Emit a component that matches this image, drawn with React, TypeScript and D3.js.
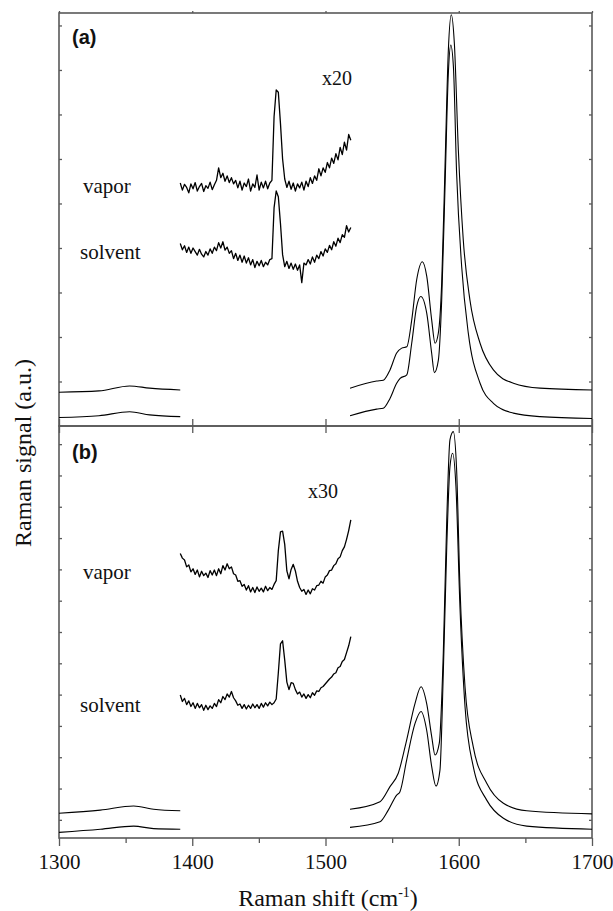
import React, { useEffect, useRef } from 'react';
import * as d3 from 'd3';

const W = 613;
const H = 911;

// x axis (Raman shift, cm-1)
const X_DOMAIN = [1300, 1700];
const X_MAJOR = [1300, 1400, 1500, 1600, 1700];
const X_MINOR = [1350, 1450, 1550, 1650];

// y ticks of each panel (a.u.)
const A_Y_TICKS = [1, 2, 3, 4, 5, 6, 7, 8, 9];
const B_Y_TICKS = [0, 1, 2, 3, 4, 5, 6, 7, 8, 9, 10, 11, 12];

// ---- panel (a) ----
const aLowUpper = [[1300, 0.76], [1330, 0.79], [1353, 0.9], [1368, 0.85], [1391, 0.81]];
const aLowLower = [[1300, 0.19], [1330, 0.23], [1353, 0.32], [1368, 0.25], [1391, 0.21]];

const aHighUpper = [
  [1518.4, 0.85], [1538.4, 1.01], [1543.4, 1.03], [1548.4, 1.26], [1553.4, 1.64], [1557.2, 1.75],
  [1561, 1.78], [1564.7, 2.38], [1568.4, 3.28], [1572.7, 3.69], [1576, 3.36], [1579.7, 2.38],
  [1582.2, 1.86], [1584.7, 2.09], [1587.2, 3.21], [1589.7, 5.83], [1592.2, 8.45], [1594.4, 9.24],
  [1596.7, 8.6], [1599.7, 6.2], [1603.4, 4.18], [1608.4, 2.83], [1616, 1.86], [1626, 1.26],
  [1641, 0.96], [1661, 0.85], [1700, 0.81],
];
const aHighLower = [
  [1518.4, 0.23], [1538.4, 0.38], [1543.4, 0.4], [1548.4, 0.62], [1553.4, 0.96], [1556, 1.07],
  [1561, 1.15], [1564.7, 1.86], [1568.4, 2.68], [1571.5, 2.91], [1576, 2.53], [1579.7, 1.63],
  [1581.7, 1.2], [1584.7, 1.48], [1587.2, 2.83], [1589.7, 5.38], [1592.2, 7.93], [1594, 8.56],
  [1596, 8.07], [1598.4, 5.68], [1602.2, 3.58], [1607.2, 2.08], [1616, 0.96], [1626, 0.51],
  [1641, 0.29], [1661, 0.21], [1700, 0.17],
];

// noisy x20 / x30 insets, sampled from 1391 cm-1 every 1.6 cm-1
const NOISY_START = 1391;
const NOISY_STEP = 1.6;

const aVapor = [
  5.46, 5.3, 5.43, 5.36, 5.24, 5.44, 5.33, 5.47, 5.28, 5.38, 5.45, 5.27, 5.4, 5.34, 5.48, 5.31, 5.42,
  5.52, 5.8, 5.58, 5.68, 5.5, 5.62, 5.47, 5.58,
  5.44, 5.52, 5.35, 5.5, 5.3, 5.46, 5.38, 5.55, 5.28, 5.44, 5.36, 5.64, 5.3, 5.48, 5.35, 5.5, 5.33,
  5.46, 5.52,
  6.95, 7.55, 7.5, 6.8, 6.0, 5.55,
  5.36, 5.5, 5.32, 5.46, 5.28, 5.44, 5.35, 5.48, 5.3,
  5.5, 5.38, 5.58, 5.45, 5.62, 5.52, 5.78, 5.62, 5.8, 5.7, 5.92, 5.8, 6.02, 5.9, 6.12, 5.98, 6.26,
  6.1, 6.38, 6.2, 6.55, 6.42,
];
const aSolvent = [
  4.1, 3.96, 4.05, 3.9, 4.02, 3.88, 4.0, 3.92, 3.84, 3.97, 3.86, 3.8, 3.92, 3.84, 3.98, 3.88, 4.02,
  3.94, 4.12, 4.0, 4.14, 3.95, 4.02, 3.88, 3.94,
  3.76, 3.88, 3.72, 3.84, 3.68, 3.82, 3.66, 3.78, 3.62, 3.74, 3.56, 3.7, 3.6, 3.72, 3.58, 3.68, 3.62,
  3.74, 3.76,
  4.9, 5.28, 5.15, 4.55, 3.85, 3.58,
  3.7, 3.54, 3.66, 3.52, 3.64, 3.5, 3.62, 3.22, 3.66,
  3.62, 3.74, 3.64, 3.8, 3.68, 3.84, 3.76, 3.92, 3.82, 3.98, 3.9, 4.06, 3.96, 4.14, 4.04, 4.22, 4.12,
  4.3, 4.24, 4.5, 4.36, 4.46,
];

// ---- panel (b) ----
const bLowUpper = [[1300, 0.21], [1331, 0.31], [1356, 0.44], [1371, 0.34], [1391, 0.29]];
const bLowLower = [[1300, -0.4], [1331, -0.3], [1356, -0.2], [1371, -0.28], [1391, -0.3]];

const bHighUpper = [
  [1518.4, 0.34], [1540.9, 0.58], [1548.4, 1.06], [1554.6, 1.49], [1560.9, 2.55], [1567.2, 3.72],
  [1571.7, 4.25], [1575.9, 3.72], [1579.7, 2.66], [1582.2, 2.07], [1585.4, 2.45], [1588.4, 5.32],
  [1591, 9.58], [1593.4, 12.14], [1595.9, 12.4], [1598.4, 11.18], [1600.9, 7.45], [1604.7, 4.25],
  [1610.9, 2.33], [1621, 1.17], [1633.5, 0.53], [1651, 0.29], [1700, 0.19],
];
const bHighLower = [
  [1518.4, -0.24], [1540.9, -0.06], [1547.1, 0.31], [1553.4, 0.79], [1555.9, 0.9], [1560.9, 1.91],
  [1567.2, 3.08], [1571.7, 3.46], [1575.9, 2.87], [1579.7, 1.7], [1582.9, 1.08], [1585.9, 1.59],
  [1588.4, 4.68], [1591, 8.73], [1593.4, 11.28], [1595.4, 11.71], [1597.9, 10.64], [1600.9, 6.81],
  [1604.7, 3.62], [1610.9, 1.7], [1621, 0.63], [1633.5, 0.05], [1651, -0.2], [1700, -0.3],
];

const bVapor = [
  8.51, 8.36, 8.3, 8.08, 8.14, 7.92, 8.02, 7.84, 7.98, 7.76, 7.94, 7.8, 7.88, 7.74, 7.96, 7.82, 7.98,
  7.8, 8.02, 7.86, 8.12, 7.98, 8.18, 8.02, 8.08,
  7.86, 7.82, 7.62, 7.64, 7.46, 7.52, 7.34, 7.48, 7.28, 7.42, 7.26, 7.44, 7.3, 7.4, 7.28, 7.46, 7.32,
  7.42, 7.36, 7.52, 7.64,
  8.6, 9.2, 9.22, 8.8, 7.95, 7.7, 8.0, 8.16, 7.95, 7.62, 7.42,
  7.3, 7.36, 7.2, 7.34, 7.22, 7.38, 7.34, 7.48, 7.5, 7.62, 7.56, 7.76, 7.82, 7.96, 7.98, 8.12, 8.18,
  8.34, 8.4, 8.6, 8.72, 8.96, 9.24, 9.58,
];
const bSolvent = [
  3.99, 3.78, 3.88, 3.68, 3.8, 3.62, 3.74, 3.56, 3.72, 3.58, 3.68, 3.5, 3.66, 3.52, 3.64, 3.56, 3.72,
  3.62, 3.84, 3.74, 3.94, 3.84, 4.02, 3.92, 4.1,
  3.9, 3.8, 3.66, 3.7, 3.56, 3.68, 3.54, 3.66, 3.56, 3.7, 3.58, 3.68, 3.56, 3.72, 3.6, 3.74, 3.64,
  3.76, 3.68, 3.74, 3.86,
  4.7, 5.62, 5.72, 5.1, 4.4, 4.16, 4.38, 4.36, 4.16, 4.02, 4.08,
  3.92, 4.02, 3.88, 4.0, 3.9, 4.06, 3.98, 4.12, 4.1, 4.22, 4.26, 4.34, 4.42, 4.5, 4.56, 4.66, 4.7,
  4.86, 4.9, 5.06, 5.12, 5.34, 5.56, 5.85,
];

const SERIF = '"Liberation Serif", "Times New Roman", serif';
const SANS = '"Liberation Sans", Arial, sans-serif';

const PANELS = [
  {
    top: 13, bottom: 426, domain: [0, 9.28], yTicks: A_Y_TICKS,
    topTick: 2, bottomTick: 7, showLabels: false,
    smooth: [aLowUpper, aLowLower, aHighUpper, aHighLower],
    noisy: [aVapor, aSolvent],
    texts: [
      { t: '(a)', x: 72, y: 44, size: 20, font: SANS, weight: 'bold' },
      { t: 'x20', x: 322, y: 85, size: 20, font: SERIF },
      { t: 'vapor', x: 83, y: 193, size: 21, font: SERIF },
      { t: 'solvent', x: 80, y: 259, size: 21, font: SERIF },
    ],
  },
  {
    top: 426, bottom: 838, domain: [-0.58, 12.58], yTicks: B_Y_TICKS,
    topTick: 7, bottomTick: 8, showLabels: true,
    smooth: [bLowUpper, bLowLower, bHighUpper, bHighLower],
    noisy: [bVapor, bSolvent],
    texts: [
      { t: '(b)', x: 72, y: 459, size: 20, font: SANS, weight: 'bold' },
      { t: 'x30', x: 308, y: 498, size: 20, font: SERIF },
      { t: 'vapor', x: 83, y: 579, size: 21, font: SERIF },
      { t: 'solvent', x: 80, y: 712, size: 21, font: SERIF },
    ],
  },
];

export default function App() {
  const ref = useRef<SVGSVGElement>(null);

  useEffect(() => {
    const svg = d3.select(ref.current);
    svg.selectAll('*').remove();

    const left = 59, right = 592;
    const axisColor = '#595959';
    const x = d3.scaleLinear().domain(X_DOMAIN).range([left, right]);

    const styleAxis = (g) => {
      g.select('.domain').remove();
      g.selectAll('.tick line').attr('stroke', axisColor).attr('stroke-width', 1.3);
    };

    PANELS.forEach((p) => {
      const y = d3.scaleLinear().domain(p.domain).range([p.bottom, p.top]);
      const smoothLine = d3.line().x((d) => x(d[0])).y((d) => y(d[1])).curve(d3.curveMonotoneX);
      const noisyLine = d3.line()
        .x((d, i) => x(NOISY_START + i * NOISY_STEP))
        .y((d) => y(d));

      // y ticks, inward on both sides
      svg.append('g').attr('transform', `translate(${left},0)`)
        .call(d3.axisLeft(y).tickValues(p.yTicks).tickSize(-3).tickFormat(() => ''))
        .call(styleAxis);
      svg.append('g').attr('transform', `translate(${right},0)`)
        .call(d3.axisRight(y).tickValues(p.yTicks).tickSize(-3).tickFormat(() => ''))
        .call(styleAxis);

      // x ticks, outward
      svg.append('g').attr('transform', `translate(0,${p.top})`)
        .call(d3.axisTop(x).tickValues(X_MAJOR).tickSize(p.topTick).tickFormat(() => ''))
        .call(styleAxis);
      const bottomAxis = svg.append('g').attr('transform', `translate(0,${p.bottom})`)
        .call(d3.axisBottom(x).tickValues(X_MAJOR).tickSize(p.bottomTick).tickPadding(8)
          .tickFormat(p.showLabels ? d3.format('d') : () => ''))
        .call(styleAxis);
      bottomAxis.selectAll('.tick text')
        .attr('font-family', SERIF).attr('font-size', 21).attr('fill', '#111');
      if (p.showLabels) {
        svg.append('g').attr('transform', `translate(0,${p.bottom})`)
          .call(d3.axisBottom(x).tickValues(X_MINOR).tickSize(5).tickFormat(() => ''))
          .call(styleAxis);
      }

      // frame
      svg.append('rect')
        .attr('x', left).attr('y', p.top)
        .attr('width', right - left).attr('height', p.bottom - p.top)
        .attr('fill', 'none').attr('stroke', axisColor).attr('stroke-width', 1.6);

      svg.append('g').selectAll('path').data(p.smooth).join('path')
        .attr('d', (d) => smoothLine(d))
        .attr('fill', 'none').attr('stroke', '#000').attr('stroke-width', 1.1);

      svg.append('g').selectAll('path').data(p.noisy).join('path')
        .attr('d', (d) => noisyLine(d))
        .attr('fill', 'none').attr('stroke', '#000').attr('stroke-width', 1.3)
        .attr('stroke-linejoin', 'round');

      svg.append('g').selectAll('text').data(p.texts).join('text')
        .attr('x', (d) => d.x).attr('y', (d) => d.y)
        .attr('font-family', (d) => d.font).attr('font-size', (d) => d.size)
        .attr('font-weight', (d) => d.weight || 'normal')
        .attr('fill', '#111')
        .text((d) => d.t);
    });

    // axis titles
    svg.append('text')
      .attr('transform', 'translate(31,453) rotate(-90)')
      .attr('text-anchor', 'middle')
      .attr('font-family', SERIF).attr('font-size', 24).attr('fill', '#111')
      .text('Raman signal (a.u.)');

    const xt = svg.append('text')
      .attr('x', 328).attr('y', 906)
      .attr('text-anchor', 'middle')
      .attr('font-family', SERIF).attr('font-size', 24).attr('fill', '#111');
    xt.append('tspan').text('Raman shift (cm');
    xt.append('tspan').attr('dy', -9).attr('font-size', 14).text('-1');
    xt.append('tspan').attr('dy', 9).text(')');
  }, []);

  return (
    <svg
      ref={ref}
      width={W}
      height={H}
      style={{ position: 'absolute', left: 0, top: 0, background: '#fff' }}
    />
  );
}
